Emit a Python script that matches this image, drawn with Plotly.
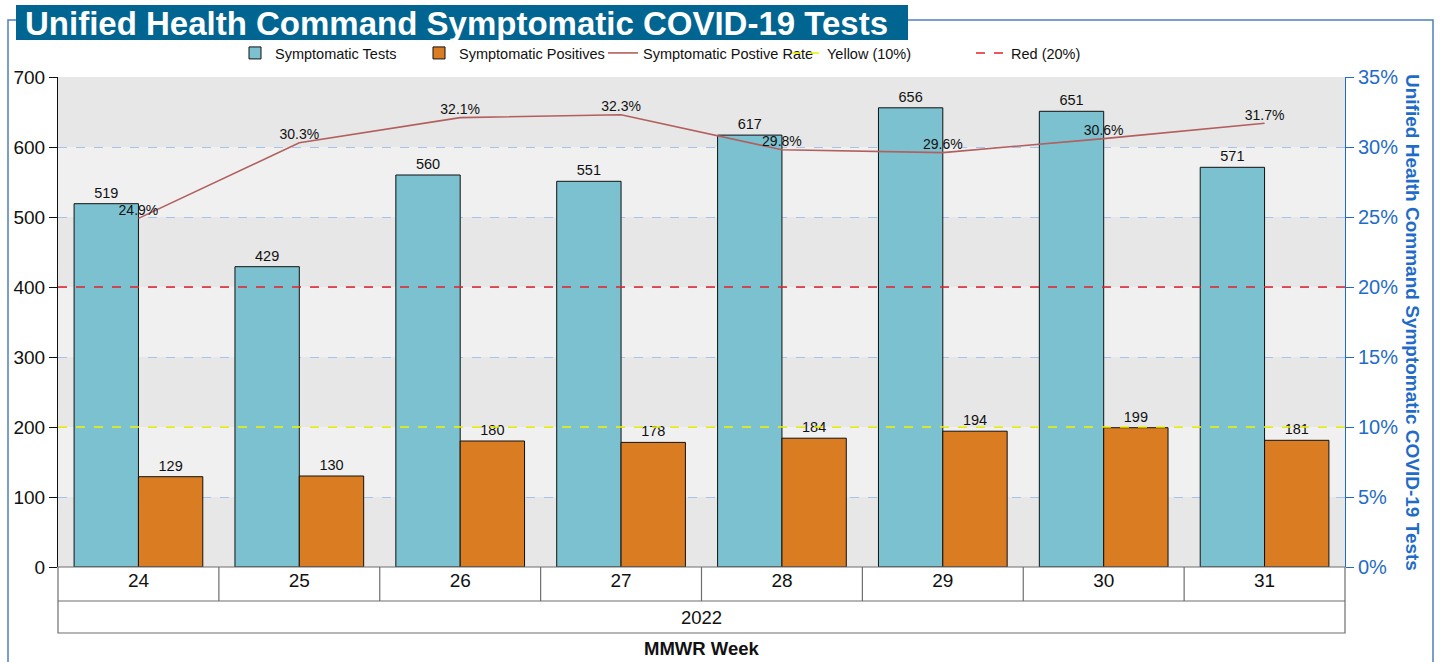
import plotly.graph_objects as go

weeks = ["24", "25", "26", "27", "28", "29", "30", "31"]
year_label = "2022"
tests = [519, 429, 560, 551, 617, 656, 651, 571]
positives = [129, 130, 180, 178, 184, 194, 199, 181]
pos_rate = [0.249, 0.303, 0.321, 0.323, 0.298, 0.296, 0.306, 0.317]
yellow_threshold = 0.10
red_threshold = 0.20
title_text = "Unified Health Command Symptomatic COVID-19 Tests"
right_title = "Unified Health Command Symptomatic COVID-19 Tests"
x_title = "MMWR Week"

# figure fills the page (body margin removed below)
OX, OY = 0, 0
W, H = 1440, 662
L, T = 58 - OX, 77 - OY
R = W - (1345 - OX)
B = H - (567 - OY)
PW, PH = W - L - R, H - T - B
def px(X):
    return (X - OX - L) / PW
def py(Y):
    return (H - B - (Y - OY)) / PH

FONT = "Liberation Sans, Arial, sans-serif"
BLUE = "#1f6cc8"

fig = go.Figure()
fig.add_trace(go.Bar(
    x=weeks, y=tests, name="Symptomatic Tests",
    marker=dict(color="#7cc1cf", line=dict(color="#111111", width=1)),
    text=[str(v) for v in tests], textposition="outside",
    textfont=dict(size=14.5, color="#111111", family=FONT), cliponaxis=False,
))
fig.add_trace(go.Bar(
    x=weeks, y=positives, name="Symptomatic Positives",
    marker=dict(color="#d97c22", line=dict(color="#111111", width=1)),
    text=[str(v) for v in positives], textposition="outside",
    textfont=dict(size=14.5, color="#111111", family=FONT), cliponaxis=False,
))
fig.add_trace(go.Scatter(
    x=weeks, y=pos_rate, name="Symptomatic Postive Rate", yaxis="y2",
    mode="lines+text", line=dict(color="#b25f5e", width=1.6),
    text=[f"{v*100:.1f}%" for v in pos_rate], textposition="top center",
    textfont=dict(size=14, color="#111111", family=FONT), cliponaxis=False,
))
fig.add_trace(go.Scatter(
    x=[weeks[0]], y=[None], name="Yellow (10%)", yaxis="y2", mode="lines",
    line=dict(color="#f2f200", width=1.5, dash="dash"),
))
fig.add_trace(go.Scatter(
    x=[weeks[0]], y=[None], name="Red (20%)", yaxis="y2", mode="lines",
    line=dict(color="#e3202a", width=1.5, dash="dash"),
))

shapes = []
for i in range(7):
    lo = i * 100
    color = "#e7e7e7" if i % 2 == 0 else "#f0f0f0"
    shapes.append(dict(type="rect", xref="paper", yref="y", x0=0, x1=1, y0=lo, y1=lo + 100,
                       fillcolor=color, line=dict(width=0), layer="below"))
shapes.append(dict(type="line", xref="paper", yref="y2", x0=0, x1=1, y0=yellow_threshold, y1=yellow_threshold,
                   line=dict(color="#f2f200", width=1.5, dash="dash"), layer="above"))
shapes.append(dict(type="line", xref="paper", yref="y2", x0=0, x1=1, y0=red_threshold, y1=red_threshold,
                   line=dict(color="#e3202a", width=1.5, dash="dash"), layer="above"))
gray = "#6e6e6e"
shapes.append(dict(type="rect", xref="paper", yref="paper", x0=0, x1=1, y0=py(633), y1=0,
                   line=dict(color=gray, width=1.2), fillcolor="rgba(0,0,0,0)"))
shapes.append(dict(type="line", xref="paper", yref="paper", x0=0, x1=1, y0=py(601), y1=py(601),
                   line=dict(color=gray, width=1.2)))
for i in range(1, len(weeks)):
    shapes.append(dict(type="line", xref="x", yref="paper", x0=i - 0.5, x1=i - 0.5, y0=0, y1=py(601),
                       line=dict(color=gray, width=1.2)))
shapes.append(dict(type="rect", xref="paper", yref="paper", x0=px(8), x1=px(1433), y0=py(700), y1=py(20),
                   line=dict(color="#4f80bd", width=1.5), fillcolor="rgba(0,0,0,0)", layer="below"))
shapes.append(dict(type="rect", xref="paper", yref="paper", x0=px(16), x1=px(908), y0=py(40), y1=py(5),
                   line=dict(width=0), fillcolor="#006591"))

annotations = [
    dict(text=title_text, xref="paper", yref="paper", x=px(24), y=py(23.5), xanchor="left", yanchor="middle",
         showarrow=False, borderpad=0, font=dict(size=33, color="white", family=FONT, weight="bold")),
    dict(text=right_title, xref="paper", yref="paper", x=px(1413), y=py(322), xanchor="center", yanchor="middle",
         textangle=90, showarrow=False, font=dict(size=19, color=BLUE, family=FONT, weight="bold")),
    dict(text=year_label, xref="paper", yref="paper", x=0.5, y=py(617), xanchor="center", yanchor="middle",
         showarrow=False, font=dict(size=18.5, color="#111111", family=FONT)),
    dict(text=x_title, xref="paper", yref="paper", x=0.5, y=py(648), xanchor="center", yanchor="middle",
         showarrow=False, font=dict(size=18.5, color="#111111", family=FONT, weight="bold")),
]

fig.update_layout(
    width=W, height=H,
    margin=dict(l=L, r=R, t=T, b=B, autoexpand=False),
    paper_bgcolor="white", plot_bgcolor="#e7e7e7",
    font=dict(family=FONT, color="#111111"),
    barmode="group", bargap=0.2, bargroupgap=0,
    showlegend=True,
    legend=dict(orientation="h", x=px(235), y=py(53), xanchor="left", yanchor="middle",
                font=dict(size=14.5, family=FONT, color="#111111"), itemwidth=30,
                entrywidth=139, entrywidthmode="pixels", bgcolor="rgba(0,0,0,0)",
                traceorder="normal"),
    xaxis=dict(type="category", range=[-0.5, len(weeks) - 0.5], showgrid=False, zeroline=False,
               showline=False, ticks="", tickfont=dict(size=19, color="#111111", family=FONT)),
    yaxis=dict(range=[0, 700], dtick=100, showgrid=True, gridcolor="#a6c3ee", griddash="dash", gridwidth=1,
               zeroline=False, showline=True, linecolor="#111111", linewidth=1,
               ticks="outside", ticklen=8, tickcolor="#111111",
               tickfont=dict(size=19, color="#111111", family=FONT)),
    yaxis2=dict(range=[0, 0.35], dtick=0.05, tickformat=".0%", overlaying="y", side="right",
                showgrid=False, zeroline=False, showline=True, linecolor=BLUE, linewidth=1,
                ticks="outside", ticklen=8, tickcolor=BLUE,
                tickfont=dict(size=20, color=BLUE, family=FONT)),
    shapes=shapes, annotations=annotations,
)

fig.write_html("out.html", config={"displayModeBar": False},
               post_script="document.body.style.margin='0';document.body.style.overflow='hidden';")
